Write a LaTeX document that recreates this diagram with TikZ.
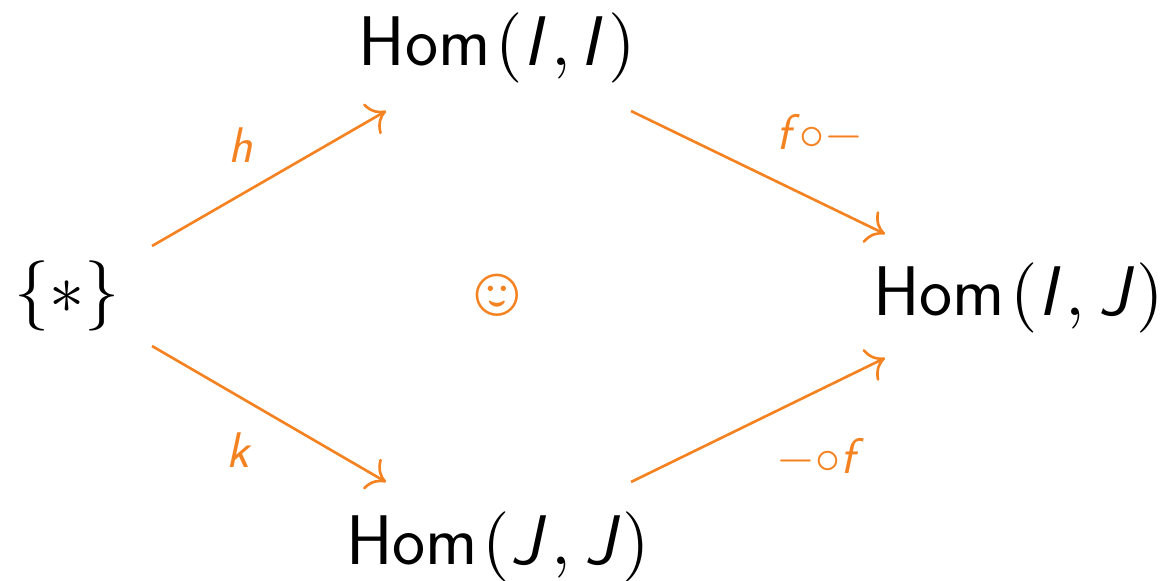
\documentclass[tikz,border=0pt]{standalone}
\usepackage{fix-cm}
\usepackage{graphicx}
\usepackage{wasysym}
\usepackage{xcolor}
\usetikzlibrary{arrows.meta}
\definecolor{arroworange}{HTML}{F58220}
\tikzset{
  objnode/.style={inner sep=0pt, anchor=base, font=\fontsize{40}{44}\selectfont\sffamily},
  mapnode/.style={inner sep=0pt, anchor=base, text=arroworange, font=\fontsize{28.5}{32}\selectfont\sffamily},
  maparrow/.style={-{Computer Modern Rightarrow[length=9.7pt, width=20pt]}, arroworange, line width=1.5pt}
}
\newcommand{\sfit}[1]{\textsl{#1}}
\newcommand{\objsym}[1]{\scalebox{4}{\normalsize$#1$}}
\newcommand{\homobj}[2]{Hom\kern.07em\objsym{(}\kern.01em\sfit{#1}\kern.07em\objsym{,}\kern.19em#2\kern.025em\objsym{)}}
\newcommand{\secondI}{\kern-.043em\sfit{I}\kern.055em}
\begin{document}
\begin{tikzpicture}[x=0.02cm, y=-0.02cm]
    \useasboundingbox (0,0) rectangle (1166,581);

    % Objects
    \node[objnode] (point) at (67,313) {\objsym{\{*\}}};
    \node[objnode] (homii) at (497.5,66) {\homobj{I}{\secondI}};
    \node[objnode] (homij) at (1018.5,315) {\homobj{I}{\sfit{J}}};
    \node[objnode] (homjj) at (498,564) {\homobj{J}{\sfit{J}}};

    % Free ends of the arrows
    \coordinate (a1) at (152,246);
    \coordinate (a2) at (386,111);
    \coordinate (b1) at (152,346);
    \coordinate (b2) at (386,482);
    \coordinate (c1) at (631,111);
    \coordinate (c2) at (885,234);
    \coordinate (d1) at (631,482);
    \coordinate (d2) at (885,358);

    % Arrows
    \draw[maparrow] (a1) -- (a2);
    \draw[maparrow] (b1) -- (b2);
    \draw[maparrow] (c1) -- (c2);
    \draw[maparrow] (d1) -- (d2);

    % Labels
    \node[mapnode] (h) at (241,162) {\sfit{h}};
    \node[mapnode] (k) at (239,467) {\sfit{k}};
    \node[mapnode] (fo) at (820,150) {\sfit{f}$\circ{-}$};
    \node[mapnode] (of) at (820,473) {${-}\circ$\sfit{f}};

    % Smiley
    \node[inner sep=0pt, text=arroworange] (smile) at (497.5,295) {\scalebox{1.47}{\fontsize{37}{40}\selectfont\smiley}};
\end{tikzpicture}
\end{document}
